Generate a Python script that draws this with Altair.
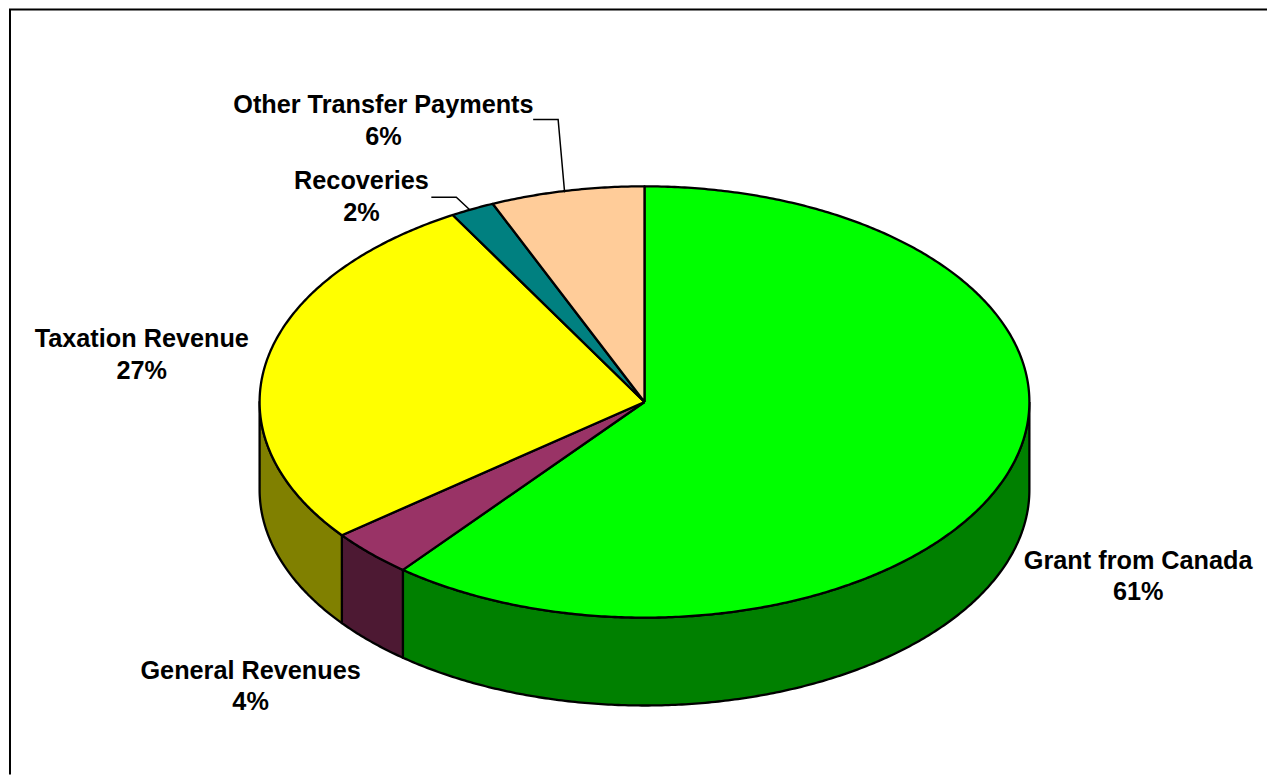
import numpy as np
import pandas as pd
import altair as alt

# Slices, clockwise from 12 o'clock
slices = ["Grant from Canada", "General Revenues", "Taxation Revenue", "Recoveries", "Other Transfer Payments"]
shares = [60.8, 3.6, 27.3, 1.85, 6.45]
top_colors = ["#00FF00", "#993366", "#FFFF00", "#008080", "#FFCC99"]
wall_colors = ["#008000", "#4D1933", "#808000", "#004040", "#806650"]

# Labels
label_text = ["Other Transfer Payments", "6%", "Recoveries", "2%", "Taxation Revenue", "27%",
              "General Revenues", "4%", "Grant from Canada", "61%"]
label_x = [375, 375, 353, 353, 133, 133, 242, 242, 1131, 1131]
label_y = [96, 128, 172, 204, 330, 362, 662, 694, 552, 583]

# Leader lines
leader_name = ["a", "a", "a", "b", "b", "b"]
leader_x = [525, 550, 556.5, 423, 448, 462]
leader_y = [110, 110, 183, 188, 188, 201]

# Pie ellipse, in chart units
CX, CY, RX, RY, DEPTH = 636.5, 393, 385.5, 216, 88
W, H = 1260, 766

xs = alt.Scale(domain=[0, W], range=[0, W], nice=False, zero=False)
ys = alt.Scale(domain=[0, H], range=[0, H], nice=False, zero=False)
xe = alt.X("x:Q", scale=xs, axis=None)
ye = alt.Y("y:Q", scale=ys, axis=None)


def rim(a0, a1, dy=0.0):
    n = max(2, int(abs(a1 - a0) * 2) + 2)
    t = np.radians(np.linspace(a0, a1, n))
    return list(CX + RX * np.sin(t)), list(CY + dy - RY * np.cos(t))


def poly(px, py, color):
    df = pd.DataFrame({"x": px, "y": py, "i": range(len(px))})
    return alt.Chart(df).mark_line(fill=color, stroke="black", strokeWidth=2.3, strokeJoin="round").encode(
        x=xe, y=ye, order="i:Q"
    )


edges = np.concatenate([[0], np.cumsum(shares)]) * 3.6
layers = []

# Walls of the front half of the rim
for k in range(len(shares)):
    a0, a1 = max(edges[k], 90), min(edges[k + 1], 270)
    if a1 > a0:
        tx, ty = rim(a0, a1)
        bx, by = rim(a1, a0, DEPTH)
        layers.append(poly(tx + bx + tx[:1], ty + by + ty[:1], wall_colors[k]))

# Top faces
for k in range(len(shares)):
    tx, ty = rim(edges[k], edges[k + 1])
    layers.append(poly([CX] + tx + [CX], [CY] + ty + [CY], top_colors[k]))

leaders = alt.Chart(pd.DataFrame({"x": leader_x, "y": leader_y, "n": leader_name, "i": range(6)})).mark_line(
    color="black", strokeWidth=1.5
).encode(x=xe, y=ye, detail="n:N", order="i:Q")

labels = alt.Chart(pd.DataFrame({"x": label_x, "y": label_y, "t": label_text})).mark_text(
    font="Liberation Sans", fontWeight="bold", fontSize=25.3, color="black", align="center", baseline="middle"
).encode(x=xe, y=ye, text="t:N")

frame_v = alt.Chart(pd.DataFrame({"x": [1]})).mark_rule(color="black", strokeWidth=2).encode(x=xe)
frame_h = alt.Chart(pd.DataFrame({"y": [0]})).mark_rule(color="black", strokeWidth=2).encode(y=ye)

chart = alt.layer(frame_v, frame_h, *layers, leaders, labels).properties(
    width=W, height=H, padding=0, background="white"
).configure_view(stroke=None)

chart.save("out.html", embed_options={"renderer": "svg", "actions": False})
